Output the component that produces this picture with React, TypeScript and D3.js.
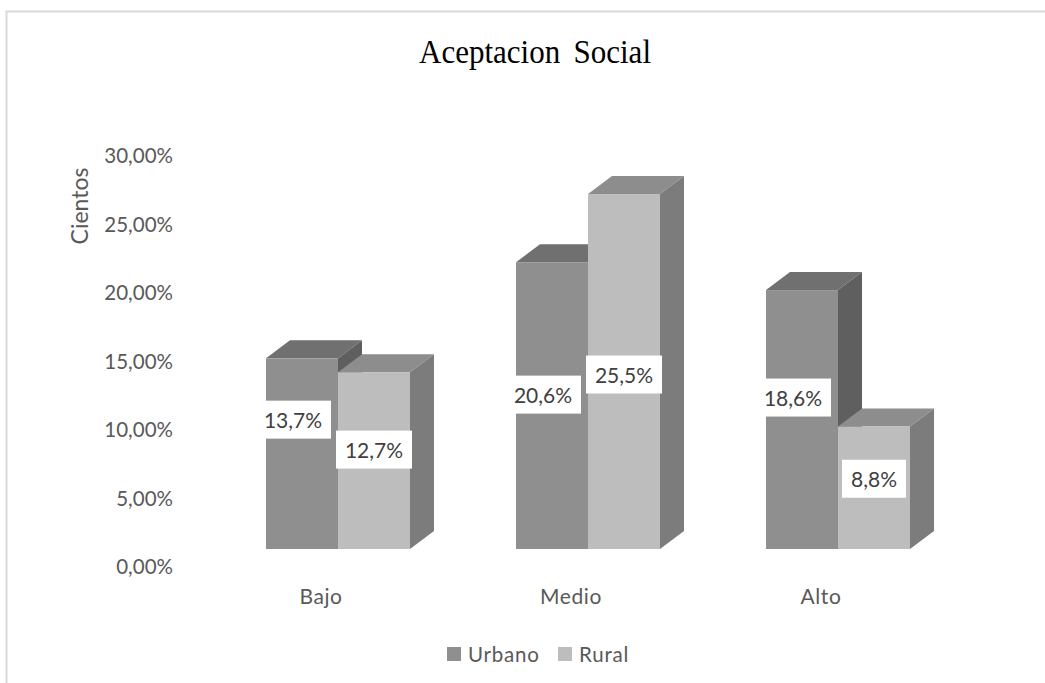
import React from "react";
import * as d3 from "d3";

const categories = ["Bajo", "Medio", "Alto"];
const seriesNames = ["Urbano", "Rural"];
const urbano = [13.7, 20.6, 18.6];
const rural = [12.7, 25.5, 8.8];
const urbanoLabels = ["13,7%", "20,6%", "18,6%"];
const ruralLabels = ["12,7%", "25,5%", "8,8%"];
const tickValues = [0, 5, 10, 15, 20, 25, 30];
const tickLabels = ["0,00%", "5,00%", "10,00%", "15,00%", "20,00%", "25,00%", "30,00%"];
// vertical nudges of the data labels from the middle of each bar (as placed in the source)
const urbanoLabelDy = [-34, -11, -22];
const ruralLabelDy = [-11, 3, -9];

const FONT = "Lato, 'Open Sans', sans-serif";
const TEXT = "#595959";
const DX = 24;
const DY = -18;
const BAR_W = 72;

const x = d3.scaleBand<string>().domain(categories).range([213, 963]).paddingInner(0).paddingOuter(0);
const y = d3.scaleLinear().domain([0, 30]).range([549, 131.4]);
const tickY = d3.scaleLinear().domain([0, 30]).range([566, 155]);

const palette = [
  { front: "#8f8f8f", top: "#6f6f6f", side: "#5f5f5f" },
  { front: "#bdbdbd", top: "#8d8d8d", side: "#7b7b7b" },
];

const poly = (pts: number[][]) => (d3.line()(pts as [number, number][]) as string) + "Z";

function Bar({ x0, v, c }: { x0: number; v: number; c: (typeof palette)[number] }) {
  const x1 = x0 + BAR_W;
  const yt = y(v);
  const yb = y(0);
  return (
    <g>
      <path d={poly([[x0, yt], [x1, yt], [x1 + DX, yt + DY], [x0 + DX, yt + DY]])} fill={c.top} />
      <path d={poly([[x1, yt], [x1 + DX, yt + DY], [x1 + DX, yb + DY], [x1, yb]])} fill={c.side} />
      <rect x={x0} y={yt} width={BAR_W} height={yb - yt} fill={c.front} />
    </g>
  );
}

function Label({ cx, cy, text }: { cx: number; cy: number; text: string }) {
  const w = text.length === 5 ? 76 : 64;
  return (
    <g>
      <rect x={cx - w / 2} y={cy - 19} width={w} height={38} fill="#ffffff" />
      <text x={cx} y={cy} textAnchor="middle" dominantBaseline="central" fontFamily={FONT} fontSize={21} fill="#404040">
        {text}
      </text>
    </g>
  );
}

export default function App() {
  const groups = categories.map((cat, i) => {
    const cx = (x(cat) as number) + x.bandwidth() / 2;
    return { cat, i, cx };
  });
  return (
    <svg width={1045} height={683} viewBox="0 0 1045 683" style={{ position: "absolute", left: 0, top: 0, display: "block", background: "#fff" }}>
      <defs>
        <filter id="soft" x="-5%" y="-5%" width="110%" height="110%">
          <feGaussianBlur stdDeviation="0.7" />
        </filter>
      </defs>
      <path d="M6.5 683V11.5H1045" fill="none" stroke="#d9d9d9" strokeWidth={2} />

      <text x={535} y={63} textAnchor="middle" fontFamily="'Liberation Serif', serif" fontSize={33} wordSpacing={6} textLength={232} lengthAdjust="spacingAndGlyphs" fill="#000">
        Aceptacion Social
      </text>

      <text transform="translate(79,206) rotate(-90)" textAnchor="middle" dominantBaseline="central" fontFamily={FONT} fontSize={23} fill={TEXT}>
        Cientos
      </text>

      {tickValues.map((t, i) => (
        <text key={t} x={173} y={tickY(t)} textAnchor="end" dominantBaseline="central" fontFamily={FONT} fontSize={20.5} fill={TEXT}>
          {tickLabels[i]}
        </text>
      ))}

      <g filter="url(#soft)">
        {groups.map(({ cat, i, cx }) => (
          <g key={cat}>
            <Bar x0={cx - BAR_W} v={urbano[i]} c={palette[0]} />
            <Bar x0={cx} v={rural[i]} c={palette[1]} />
          </g>
        ))}
      </g>

      {groups.map(({ cat, i, cx }) => (
        <g key={cat}>
          <Label cx={cx - 45} cy={(y(0) + y(urbano[i])) / 2 + urbanoLabelDy[i]} text={urbanoLabels[i]} />
          <Label cx={cx + 36} cy={(y(0) + y(rural[i])) / 2 + ruralLabelDy[i]} text={ruralLabels[i]} />
          <text x={cx - 17} y={595} textAnchor="middle" dominantBaseline="central" fontFamily={FONT} fontSize={21} letterSpacing={0.6} fill={TEXT}>
            {cat}
          </text>
        </g>
      ))}

      {seriesNames.map((name, i) => {
        const lx = i === 0 ? 447 : 558;
        return (
          <g key={name}>
            <rect x={lx} y={647} width={14} height={14} fill={palette[i].front} />
            <text x={lx + 21} y={654} dominantBaseline="central" fontFamily={FONT} fontSize={20.5} letterSpacing={0.8} fill={TEXT}>
              {name}
            </text>
          </g>
        );
      })}
    </svg>
  );
}
